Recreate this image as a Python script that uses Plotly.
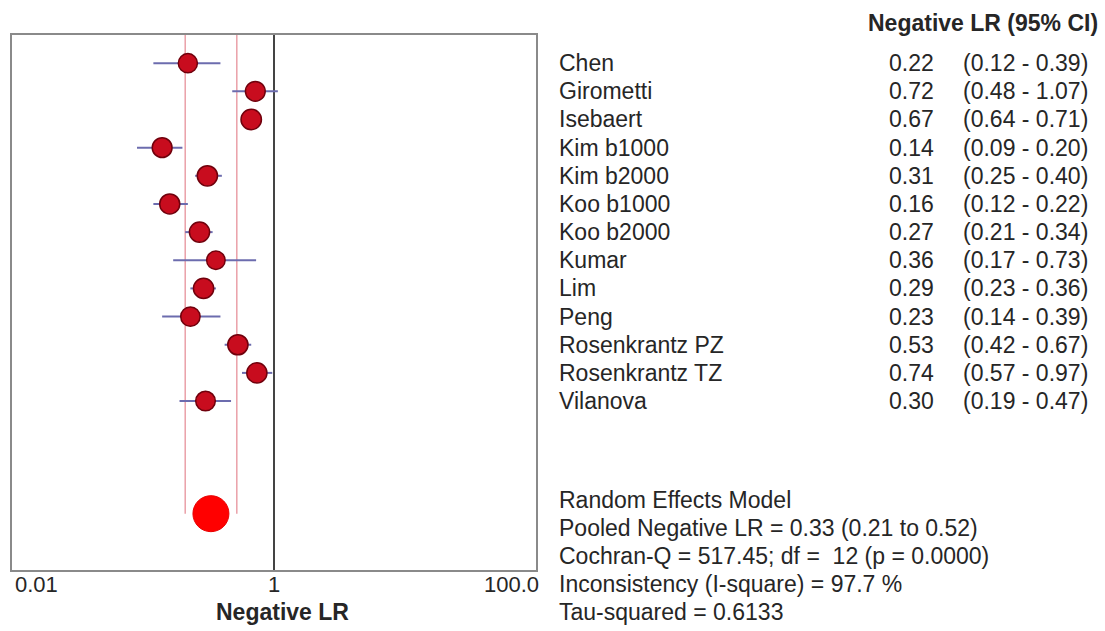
import math
import plotly.graph_objects as go

# ---------------- data ----------------
studies = ["Chen", "Girometti", "Isebaert", "Kim b1000", "Kim b2000", "Koo b1000",
           "Koo b2000", "Kumar", "Lim", "Peng", "Rosenkrantz PZ", "Rosenkrantz TZ",
           "Vilanova"]
lr = [0.22, 0.72, 0.67, 0.14, 0.31, 0.16, 0.27, 0.36, 0.29, 0.23, 0.53, 0.74, 0.30]
ci_low = [0.12, 0.48, 0.64, 0.09, 0.25, 0.12, 0.21, 0.17, 0.23, 0.14, 0.42, 0.57, 0.19]
ci_high = [0.39, 1.07, 0.71, 0.20, 0.40, 0.22, 0.34, 0.73, 0.36, 0.39, 0.67, 0.97, 0.47]

pooled = 0.33
pooled_low = 0.21
pooled_high = 0.52
cochran_q = "517.45"
df_q = 12
p_q = "0.0000"
i_square = "97.7"
tau_sq = 0.6133

x_tick_vals = [0.01, 1, 100]
x_tick_text = ["0.01", "1", "100.0"]
x_title = "Negative LR"
header = "Negative LR (95% CI)"
stats_lines = [
    "Random Effects Model",
    f"Pooled Negative LR = {pooled:.2f} ({pooled_low:.2f} to {pooled_high:.2f})",
    f"Cochran-Q = {cochran_q}; df =  {df_q} (p = {p_q})",
    f"Inconsistency (I-square) = {i_square} %",
    f"Tau-squared = {tau_sq:.4f}",
]

# ---------------- layout geometry ----------------
W, H = 1105, 631
L, R, T, B = 12, 536, 35, 570
PW = R - L
Y_TOP, Y_BOT = -1, 18
FONT = "Liberation Sans, Arial, Helvetica, sans-serif"
TXT = "#262626"


def px(xpix):
    return (xpix - L) / PW


def py_pix(ypix):
    return (B - ypix) / (B - T)


def py(row):
    return 1 - (row - Y_TOP) / (Y_BOT - Y_TOP)


n = len(studies)
rows = list(range(n))
pooled_row = n + 3  # 16

# random-effects weights -> marker size
sizes = []
for lo_, hi_ in zip(ci_low, ci_high):
    se = (math.log(hi_) - math.log(lo_)) / 3.92
    w = 1.0 / (se * se + tau_sq)
    sizes.append(16.0 * math.sqrt(w))

fig = go.Figure()

# pooled CI vertical lines
fig.add_trace(go.Scatter(
    x=[pooled_low, pooled_low, None, pooled_high, pooled_high],
    y=[Y_TOP, pooled_row, None, Y_TOP, pooled_row],
    mode="lines", line=dict(color="#eaa0a8", width=1.5),
    hoverinfo="skip", showlegend=False))

# line of no effect
fig.add_trace(go.Scatter(
    x=[1, 1], y=[Y_TOP, Y_BOT], mode="lines",
    line=dict(color="#444444", width=2),
    hoverinfo="skip", showlegend=False))

# CI lines
cx, cy = [], []
for i, (a, b) in enumerate(zip(ci_low, ci_high)):
    cx += [a, b, None]
    cy += [i, i, None]
fig.add_trace(go.Scatter(
    x=cx, y=cy, mode="lines", line=dict(color="#6c6cae", width=2),
    hoverinfo="skip", showlegend=False))

# study points
fig.add_trace(go.Scatter(
    x=lr, y=rows, mode="markers",
    marker=dict(color="#c80c1e", size=sizes, opacity=1,
                line=dict(color="#70000c", width=1.5)),
    text=studies, hoverinfo="text+x", showlegend=False))

# pooled point
fig.add_trace(go.Scatter(
    x=[pooled], y=[pooled_row], mode="markers",
    marker=dict(color="#ff0000", size=36, opacity=1,
                line=dict(color="#e80000", width=1)),
    hoverinfo="x", showlegend=False))

ann = []
# tick labels
anchors = ["left", "center", "right"]
tick_px = [13, None, 541]
for v, t, a, tp in zip(x_tick_vals, x_tick_text, anchors, tick_px):
    xv = px(tp) if tp is not None else px(L + PW * (math.log10(v) + 2) / 4)
    ann.append(dict(x=xv, xref="paper", y=py_pix(585), yref="paper", text=t,
                    showarrow=False, xanchor=a, yanchor="middle",
                    font=dict(family=FONT, size=22, color=TXT)))
ann.append(dict(x=px(L + PW / 2 + 8), xref="paper", y=py_pix(612), yref="paper",
                text="<b>" + x_title + "</b>",
                showarrow=False, xanchor="center", yanchor="middle",
                font=dict(family=FONT, size=23, color=TXT)))

# header
ann.append(dict(x=px(866), xref="paper", y=py_pix(23), yref="paper",
                text="<b>" + header + "</b>",
                showarrow=False, xanchor="left", yanchor="middle",
                font=dict(family=FONT, size=23, color=TXT)))

# study rows
for i, (s, v, a, b) in enumerate(zip(studies, lr, ci_low, ci_high)):
    ann.append(dict(x=px(557), xref="paper", y=py(i), yref="paper", text=s,
                    showarrow=False, xanchor="left", yanchor="middle",
                    font=dict(family=FONT, size=23, color=TXT)))
    ann.append(dict(x=px(936), xref="paper", y=py(i), yref="paper", text=f"{v:.2f}",
                    showarrow=False, xanchor="right", yanchor="middle",
                    font=dict(family=FONT, size=23, color=TXT)))
    ann.append(dict(x=px(961), xref="paper", y=py(i), yref="paper",
                    text=f"({a:.2f} - {b:.2f})",
                    showarrow=False, xanchor="left", yanchor="middle",
                    font=dict(family=FONT, size=23, color=TXT)))

# stats block
for k, line in enumerate(stats_lines):
    ann.append(dict(x=px(557), xref="paper", y=py(pooled_row - 0.5 + k), yref="paper",
                    text=line, showarrow=False, xanchor="left", yanchor="middle",
                    font=dict(family=FONT, size=23, color=TXT)))

fig.update_layout(
    width=W, height=H,
    margin=dict(l=L, r=W - R, t=T, b=H - B, pad=0),
    paper_bgcolor="white", plot_bgcolor="white",
    showlegend=False,
    annotations=ann,
    xaxis=dict(type="log", range=[-2, 2], showgrid=False, zeroline=False,
               showticklabels=False, ticks="", showline=True, mirror=True,
               linecolor="#8a8a8a", linewidth=2),
    yaxis=dict(range=[Y_BOT, Y_TOP], showgrid=False, zeroline=False,
               showticklabels=False, ticks="", showline=True, mirror=True,
               linecolor="#8a8a8a", linewidth=2),
)

fig.write_html("out.html", config={"displayModeBar": False})
